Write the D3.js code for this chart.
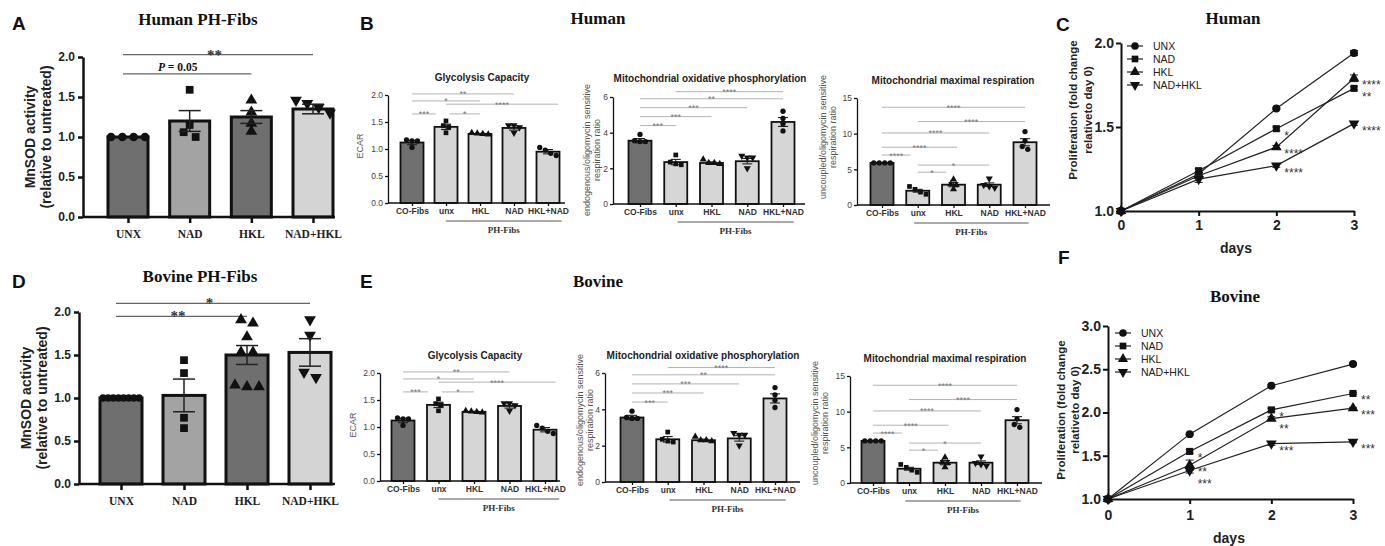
<!DOCTYPE html>
<html>
<head><meta charset="utf-8">
<style>
  html, body { margin: 0; background: #fff; }
  svg { display: block; }
</style>
</head>
<body>
<svg id="fig" width="1385" height="546"></svg>
<script src="https://cdnjs.cloudflare.com/ajax/libs/d3/7.8.5/d3.min.js"></script>
<script>
// ---- MnSOD activity (A, D) ----
const mnsodGroups = ['UNX', 'NAD', 'HKL', 'NAD+HKL'];
const humanMnsodMean = [1.0, 1.2, 1.25, 1.35];
const humanMnsodSem = [0, 0.13, 0.08, 0.06];
const humanMnsodPoints = [[1, 1, 1, 1], [1.59, 1.15, 1.06, 1.0], [1.46, 1.31, 1.17, 1.07], [1.46, 1.42, 1.37, 1.30]];
const humanMnsodSig = [[0, 3, 2.03, '**'], [0, 2, 1.79, 'P = 0.05']];

const bovineMnsodMean = [1.0, 1.03, 1.5, 1.53];
const bovineMnsodSem = [0, 0.19, 0.11, 0.16];
const bovineMnsodPoints = [[1, 1, 1, 1, 1, 1, 1, 1], [1.44, 1.29, 0.77, 0.65], [1.87, 1.91, 1.71, 1.53, 1.53, 1.13, 1.15, 1.13], [1.91, 1.73, 1.24, 1.30]];
const bovineMnsodSig = [[0, 3, 2.10, '*'], [0, 2, 1.95, '**']];

// ---- Seahorse (B, E) ----
const mitoGroups = ['CO-Fibs', 'unx', 'HKL', 'NAD', 'HKL+NAD'];
const glycMean = [1.12, 1.41, 1.28, 1.39, 0.95];
const glycSem = [0.04, 0.05, 0.01, 0.04, 0.04];
const glycPoints = [[1.17, 1.15, 1.15, 1.03], [1.52, 1.43, 1.41, 1.30], [1.30, 1.29, 1.28, 1.27], [1.44, 1.44, 1.40, 1.30], [1.03, 0.98, 0.92, 0.88]];
const glycSig = [[0, 3, 2.02, '**'], [0, 2, 1.89, '*'], [1, 4.3, 1.83, '****'], [0, 0.7, 1.65, '***'], [1.1, 2, 1.65, '*']];

const oxMean = [3.55, 2.35, 2.3, 2.4, 4.6];
const oxSem = [0.12, 0.15, 0.06, 0.15, 0.25];
const oxPoints = [[3.9, 3.55, 3.5, 3.5], [2.75, 2.35, 2.25, 2.2], [2.5, 2.3, 2.25, 2.3], [2.7, 2.6, 2.6, 2.0], [5.2, 4.8, 4.5, 4.1]];
const oxSig = [[1, 4, 6.3, '****'], [0, 4, 5.9, '**'], [0, 3, 5.4, '***'], [0, 2, 4.9, '***'], [0, 1, 4.4, '***']];

const maxMean = [5.9, 2.0, 2.85, 2.85, 8.8];
const maxSem = [0.05, 0.2, 0.3, 0.25, 0.5];
const maxPoints = [[5.9, 5.9, 5.9, 5.9], [2.6, 2.2, 1.8, 1.5], [3.6, 2.9, 2.8, 2.2], [3.7, 2.8, 2.6, 2.4], [10.3, 9.0, 8.2, 7.8]];
const maxSig = [[0, 4, 13.7, '****'], [1, 4, 11.7, '****'], [0, 3, 10.1, '****'], [0, 2.1, 8.1, '****'], [0, 0.8, 7.0, '****'], [1, 3, 5.6, '*'], [1, 1.8, 4.6, '*']];

// ---- Proliferation (C, F) ----
const prolSeries = ['UNX', 'NAD', 'HKL', 'NAD+HKL'];
const days = [0, 1, 2, 3];
const humanProl = [[1.0, 1.22, 1.61, 1.94], [1.0, 1.24, 1.49, 1.73], [1.0, 1.21, 1.38, 1.79], [1.0, 1.19, 1.27, 1.52]];
const humanProlSem = [[0, 0.01, 0.005, 0.015], [0, 0.01, 0.01, 0.01], [0, 0.01, 0.01, 0.02], [0, 0.02, 0.01, 0.01]];
const humanProlSig = [[2, 3, '****'], [1, 3, '**'], [3, 3, '****'], [1, 2, '*'], [2, 2, '****'], [3, 2, '****']];

const bovineProl = [[1.0, 1.75, 2.31, 2.56], [1.0, 1.55, 2.03, 2.22], [1.0, 1.39, 1.93, 2.05], [1.0, 1.33, 1.64, 1.66]];
const bovineProlSem = [[0, 0.01, 0.01, 0.01], [0, 0.02, 0.02, 0.01], [0, 0.06, 0.02, 0.01], [0, 0.03, 0.02, 0.01]];
const bovineProlSig = [[1, 1, '*'], [2, 1, '**'], [3, 1, '***'], [1, 2, '*'], [2, 2, '**'], [3, 2, '***'], [1, 3, '**'], [2, 3, '***'], [3, 3, '***']];

const sans = "'Liberation Sans', Arial, sans-serif";
const serif = "'Liberation Serif', 'Times New Roman', serif";
const svg = d3.select('#fig');

function txt(g, x, y, s, size, weight, family, anchor, fill) {
  return g.append('text').attr('x', x).attr('y', y).text(s)
    .attr('font-size', size).attr('font-weight', weight || 'normal')
    .attr('font-family', family || sans).attr('text-anchor', anchor || 'middle')
    .attr('fill', fill || '#111');
}
function vtxt(g, x, y, s, size, fill, weight) {
  return g.append('text').attr('transform', `translate(${x},${y}) rotate(-90)`)
    .attr('dy', '0.35em').attr('text-anchor', 'middle').text(s)
    .attr('font-size', size).attr('font-family', sans).attr('font-weight', weight || 'normal')
    .attr('fill', fill || '#111');
}
function marker(g, shape, x, y, size) {
  const type = shape === 'square' ? d3.symbolSquare : (shape === 'circle' ? d3.symbolCircle : d3.symbolTriangle);
  return g.append('path').attr('d', d3.symbol(type, size)())
    .attr('transform', `translate(${x},${y})` + (shape === 'down' ? ' rotate(180)' : ''))
    .attr('fill', '#111');
}
// spread points that sit at nearly the same height side by side (scatter-on-bar look)
function spread(vals, y, near, gap, maxHalf) {
  const idx = vals.map((v, i) => i).sort((a, b) => vals[b] - vals[a]);
  const off = new Array(vals.length).fill(0);
  let cl = [];
  const flush = () => {
    const g2 = cl.length > 1 ? Math.min(gap, 2 * maxHalf / (cl.length - 1)) : 0;
    cl.forEach((i, k) => off[i] = (k - (cl.length - 1) / 2) * g2);
    cl = [];
  };
  idx.forEach(i => {
    if (cl.length && Math.abs(y(vals[i]) - y(vals[cl[cl.length - 1]])) > near) flush();
    cl.push(i);
  });
  flush();
  return off;
}

// panel letters and serif titles
[['A', 12, 30], ['B', 360, 30], ['C', 1056, 31], ['D', 12, 288], ['E', 360, 288], ['F', 1058, 264]]
  .forEach(d => txt(svg, d[1], d[2], d[0], 19, 'bold', sans, 'start', '#111'));
txt(svg, 198, 25, 'Human PH-Fibs', 17, 'bold', serif);
txt(svg, 598, 24, 'Human', 17, 'bold', serif);
txt(svg, 1233, 24, 'Human', 17, 'bold', serif);
txt(svg, 200, 282, 'Bovine PH-Fibs', 17, 'bold', serif);
txt(svg, 598, 287, 'Bovine', 17, 'bold', serif);
txt(svg, 1235, 302, 'Bovine', 17, 'bold', serif);

// ---------- MnSOD bar panels ----------
const mnsodShapes = ['circle', 'square', 'triangle', 'down'];
const mnsodFill = ['#6f6f6f', '#a3a3a3', '#6f6f6f', '#d4d4d4'];

function mnsodPanel(o) {
  const g = svg.append('g');
  const y = d3.scaleLinear().domain([0, 2]).range([o.y0, o.y1]);
  const x = d3.scalePoint().domain(mnsodGroups).range([o.xFirst, o.xLast]);
  const at = i => o.xFirst + i * x.step();

  o.sig.forEach(s => {
    const x1 = at(s[0]), x2 = at(s[1]), yy = y(s[2]);
    g.append('line').attr('x1', x1 - 5).attr('x2', x2).attr('y1', yy).attr('y2', yy)
      .attr('stroke', '#666').attr('stroke-width', 1.2);
    if (s[3].startsWith('P')) {
      const t = txt(g, (x1 + x2) / 2 - 12, yy - 3, '', 11.5, 'bold', serif);
      t.append('tspan').attr('font-style', 'italic').text('P');
      t.append('tspan').text(s[3].slice(1));
    } else {
      txt(g, (x1 + x2) / 2 - 6, yy + 5, s[3], 15, 'bold', serif, 'middle', '#333');
    }
  });

  g.selectAll('rect.bar').data(o.mean).join('rect').attr('class', 'bar')
    .attr('x', (d, i) => x(mnsodGroups[i]) - o.bw / 2).attr('width', o.bw)
    .attr('y', d => y(d)).attr('height', d => y(0) - y(d))
    .attr('fill', (d, i) => mnsodFill[i]).attr('stroke', '#111').attr('stroke-width', 3);

  o.mean.forEach((m, i) => {
    const cx = x(mnsodGroups[i]);
    const pts = o.pts[i];
    const off = spread(pts, y, 7, 12, o.bw / 2 - 3);
    pts.forEach((v, j) => marker(g, mnsodShapes[i], cx + off[j], y(v), pts.length > 4 && i === 0 ? 42 : 60));
    const s = o.sem[i];
    if (s > 0) {
      g.append('line').attr('x1', cx).attr('x2', cx).attr('y1', y(m - s)).attr('y2', y(m + s)).attr('stroke', '#222').attr('stroke-width', 1.5);
      [m - s, m + s].forEach(v => g.append('line').attr('x1', cx - 11).attr('x2', cx + 11)
        .attr('y1', y(v)).attr('y2', y(v)).attr('stroke', '#222').attr('stroke-width', 1.5));
    }
  });

  const ya = g.append('g').attr('transform', `translate(${o.ax},0)`)
    .call(d3.axisLeft(y).tickValues([0, 0.5, 1, 1.5, 2]).tickFormat(d3.format('.1f')).tickSize(5).tickSizeOuter(0));
  ya.select('.domain').attr('stroke', '#111').attr('stroke-width', 2.5);
  ya.selectAll('.tick line').attr('stroke', '#111').attr('stroke-width', 2.5);
  ya.selectAll('.tick text').attr('font-size', 12).attr('font-weight', 'bold').attr('font-family', sans).attr('fill', '#222');

  const xa = g.append('g').attr('transform', `translate(0,${o.y0})`)
    .call(d3.axisBottom(x).tickSize(6).tickPadding(7).tickSizeOuter(0));
  xa.select('.domain').remove();
  xa.selectAll('.tick line').attr('stroke', '#111').attr('stroke-width', 2.5);
  xa.selectAll('.tick text').attr('font-size', 11.5).attr('font-weight', 'bold').attr('font-family', serif).attr('fill', '#222');
  g.append('line').attr('x1', o.ax).attr('x2', o.xEnd).attr('y1', o.y0).attr('y2', o.y0)
    .attr('stroke', '#111').attr('stroke-width', 2.5);

  vtxt(g, o.labX[0], (o.y0 + o.y1) / 2, 'MnSOD activity', 14, '#222', 'bold');
  vtxt(g, o.labX[1], (o.y0 + o.y1) / 2, '(relative to untreated)', 14, '#222', 'bold');
}

mnsodPanel({ mean: humanMnsodMean, sem: humanMnsodSem, pts: humanMnsodPoints, sig: humanMnsodSig,
  y0: 217, y1: 57, ax: 83, xEnd: 335, xFirst: 128, xLast: 313, bw: 40, labX: [30, 46] });
mnsodPanel({ mean: bovineMnsodMean, sem: bovineMnsodSem, pts: bovineMnsodPoints, sig: bovineMnsodSig,
  y0: 484, y1: 312, ax: 79, xEnd: 335, xFirst: 121, xLast: 310, bw: 42, labX: [26, 42] });

// ---------- Seahorse small panels ----------
const mitoShapes = ['circle', 'square', 'triangle', 'down', 'circle'];
const mitoFill = ['#707070', '#d6d6d6', '#d6d6d6', '#d6d6d6', '#d6d6d6'];

function mitoPanel(o) {
  const g = svg.append('g');
  const y = d3.scaleLinear().domain([0, o.max]).range([o.y0, o.y1]);
  const x = d3.scalePoint().domain(mitoGroups).range([o.xFirst, o.xLast]);
  const at = i => o.xFirst + i * x.step();

  txt(g, o.titleX, o.titleY, o.title, 10, 'bold', sans, 'middle', '#222');

  o.sig.forEach(s => {
    const x1 = at(s[0]), x2 = at(s[1]), yy = y(s[2]);
    g.append('line').attr('x1', x1).attr('x2', x2).attr('y1', yy).attr('y2', yy)
      .attr('stroke', '#aaa').attr('stroke-width', 0.9);
    txt(g, (x1 + x2) / 2, yy + 3.5, s[3], 9, 'normal', sans, 'middle', '#777');
  });

  g.selectAll('rect.bar').data(o.mean).join('rect').attr('class', 'bar')
    .attr('x', (d, i) => x(mitoGroups[i]) - 11.5).attr('width', 23)
    .attr('y', d => y(d)).attr('height', d => y(0) - y(d))
    .attr('fill', (d, i) => mitoFill[i]).attr('stroke', '#111').attr('stroke-width', 1.8);

  o.mean.forEach((m, i) => {
    const cx = x(mitoGroups[i]), s = o.sem[i];
    g.append('line').attr('x1', cx).attr('x2', cx).attr('y1', y(m - s)).attr('y2', y(m + s)).attr('stroke', '#222').attr('stroke-width', 1.1);
    [m - s, m + s].forEach(v => g.append('line').attr('x1', cx - 5).attr('x2', cx + 5)
      .attr('y1', y(v)).attr('y2', y(v)).attr('stroke', '#222').attr('stroke-width', 1.1));
    const off = spread(o.pts[i], y, 4, 5.5, 9);
    o.pts[i].forEach((v, j) => marker(g, mitoShapes[i], cx + off[j], y(v), 22));
  });

  const ya = g.append('g').attr('transform', `translate(${o.ax},0)`)
    .call(d3.axisLeft(y).tickValues(o.ticks).tickFormat(o.fmt).tickSize(3).tickPadding(2).tickSizeOuter(0));
  ya.select('.domain').attr('stroke', '#111').attr('stroke-width', 1.3);
  ya.selectAll('.tick line').attr('stroke', '#111').attr('stroke-width', 1.3);
  ya.selectAll('.tick text').attr('font-size', 8.5).attr('font-family', sans).attr('fill', '#444');

  const xa = g.append('g').attr('transform', `translate(0,${o.y0})`)
    .call(d3.axisBottom(x).tickSize(3).tickPadding(2).tickSizeOuter(0));
  xa.select('.domain').remove();
  xa.selectAll('.tick line').attr('stroke', '#111').attr('stroke-width', 1.3);
  xa.selectAll('.tick text').attr('font-size', 8.5).attr('font-weight', 'bold').attr('font-family', sans).attr('fill', '#333');
  g.append('line').attr('x1', o.ax).attr('x2', o.xEnd).attr('y1', o.y0).attr('y2', o.y0)
    .attr('stroke', '#111').attr('stroke-width', 1.3);

  const u1 = at(o.under[0]), u2 = at(o.under[1]);
  g.append('line').attr('x1', u1).attr('x2', u2).attr('y1', o.y0 + 18).attr('y2', o.y0 + 18)
    .attr('stroke', '#555').attr('stroke-width', 1);
  txt(g, (u1 + u2) / 2, o.y0 + 30, 'PH-Fibs', 9, 'bold', serif, 'middle', '#333');

  o.ylab.forEach((l, k) => vtxt(g, o.labX[k], o.labY, l, 9, '#555'));
}

const f1 = d3.format('.1f'), f0 = d3.format('d');
const oxLab = ['endogenous/oligomycin sensitive', 'respiration ratio'];
const maxLab = ['uncoupled/oligomycin sensitive', 'respiration ratio'];

// Human (B)
mitoPanel({ title: 'Glycolysis Capacity', titleX: 482, titleY: 81, mean: glycMean, sem: glycSem, pts: glycPoints, sig: glycSig,
  max: 2, ticks: [0, 0.5, 1, 1.5, 2], fmt: f1, y0: 203, y1: 95, ax: 388, xEnd: 565, xFirst: 412, xLast: 548,
  under: [1, 4.4], ylab: ['ECAR'], labX: [360], labY: 146 });
mitoPanel({ title: 'Mitochondrial oxidative phosphorylation', titleX: 710, titleY: 82, mean: oxMean, sem: oxSem, pts: oxPoints, sig: oxSig,
  max: 6, ticks: [0, 2, 4, 6], fmt: f0, y0: 204, y1: 97, ax: 613, xEnd: 805, xFirst: 640, xLast: 783,
  under: [1.05, 4.3], ylab: oxLab, labX: [587, 597], labY: 150 });
mitoPanel({ title: 'Mitochondrial maximal respiration', titleX: 953, titleY: 84, mean: maxMean, sem: maxSem, pts: maxPoints, sig: maxSig,
  max: 15, ticks: [0, 5, 10, 15], fmt: f0, y0: 205, y1: 98, ax: 857, xEnd: 1050, xFirst: 882, xLast: 1025,
  under: [0.9, 4.1], ylab: maxLab, labX: [823, 833], labY: 137 });
// Bovine (E)
mitoPanel({ title: 'Glycolysis Capacity', titleX: 475, titleY: 359, mean: glycMean, sem: glycSem, pts: glycPoints, sig: glycSig,
  max: 2, ticks: [0, 0.5, 1, 1.5, 2], fmt: f1, y0: 481, y1: 373, ax: 380, xEnd: 560, xFirst: 403, xLast: 545,
  under: [1, 4.4], ylab: ['ECAR'], labX: [353], labY: 425 });
mitoPanel({ title: 'Mitochondrial oxidative phosphorylation', titleX: 703, titleY: 359, mean: oxMean, sem: oxSem, pts: oxPoints, sig: oxSig,
  max: 6, ticks: [0, 2, 4, 6], fmt: f0, y0: 482, y1: 373, ax: 605, xEnd: 800, xFirst: 632, xLast: 775,
  under: [1.05, 4.3], ylab: oxLab, labX: [580, 590], labY: 420 });
mitoPanel({ title: 'Mitochondrial maximal respiration', titleX: 945, titleY: 362, mean: maxMean, sem: maxSem, pts: maxPoints, sig: maxSig,
  max: 15, ticks: [0, 5, 10, 15], fmt: f0, y0: 483, y1: 376, ax: 850, xEnd: 1042, xFirst: 873, xLast: 1017,
  under: [0.9, 4.1], ylab: maxLab, labX: [815, 825], labY: 423 });

// ---------- Proliferation line panels ----------
function prolPanel(o) {
  const g = svg.append('g');
  const x = d3.scaleLinear().domain([0, 3]).range([o.x0, o.x1]);
  const y = d3.scaleLinear().domain([1, o.max]).range([o.y0, o.y1]);
  const line = d3.line().x((d, i) => x(days[i])).y(d => y(d));

  o.data.forEach((ser, k) => {
    g.append('path').attr('d', line(ser)).attr('fill', 'none').attr('stroke', '#222').attr('stroke-width', 1.2);
    ser.forEach((v, i) => {
      const s = o.sem[k][i], cx = x(days[i]);
      if (s > 0) {
        g.append('line').attr('x1', cx).attr('x2', cx).attr('y1', y(v - s)).attr('y2', y(v + s)).attr('stroke', '#222');
        [v - s, v + s].forEach(w => g.append('line').attr('x1', cx - 4).attr('x2', cx + 4)
          .attr('y1', y(w)).attr('y2', y(w)).attr('stroke', '#222'));
      }
      marker(g, mnsodShapes[k], cx, y(v), 50);
    });
  });

  // significance stars beside the markers, nudged apart when they crowd
  days.forEach(dd => {
    const here = o.sig.filter(s => s[1] === dd)
      .map(s => ({ s: s[2], x: x(dd) + 8, y: y(o.data[s[0]][dd]) + 11 }))
      .sort((a, b) => a.y - b.y);
    here.forEach((h, k) => { if (k && h.y - here[k - 1].y < 12) h.y = here[k - 1].y + 12; });
    here.forEach(h => txt(g, h.x, h.y, h.s, 12, 'normal', sans, 'start', '#333'));
  });

  const ya = g.append('g').attr('transform', `translate(${o.x0},0)`)
    .call(d3.axisLeft(y).tickValues(o.ticks).tickFormat(d3.format('.1f')).tickSize(5).tickPadding(2).tickSizeOuter(0));
  const xa = g.append('g').attr('transform', `translate(0,${o.y0})`)
    .call(d3.axisBottom(x).tickValues(days).tickFormat(d3.format('d')).tickSize(5).tickPadding(o.xPad).tickSizeOuter(0));
  [ya, xa].forEach(a => {
    a.select('.domain').attr('stroke', '#111').attr('stroke-width', 2);
    a.selectAll('.tick line').attr('stroke', '#111').attr('stroke-width', 2);
    a.selectAll('.tick text').attr('font-size', 14).attr('font-weight', 'bold').attr('font-family', sans).attr('fill', '#222');
  });
  txt(g, o.daysX, o.daysY, 'days', 14, 'bold', sans, 'middle', '#222');

  vtxt(g, o.labX[0], o.labY, 'Proliferation (fold change', 11.5, '#222', 'bold');
  vtxt(g, o.labX[1], o.labY, 'relativeto day 0)', 11.5, '#222', 'bold');

  prolSeries.forEach((name, k) => {
    const ly = o.legY + k * 13;
    g.append('line').attr('x1', o.legX - 8).attr('x2', o.legX + 8).attr('y1', ly).attr('y2', ly).attr('stroke', '#222').attr('stroke-width', 1.2);
    marker(g, mnsodShapes[k], o.legX, ly, 45);
    txt(g, o.legX + 18, ly + 4, name, 10.5, 'normal', sans, 'start', '#222');
  });
}

prolPanel({ data: humanProl, sem: humanProlSem, sig: humanProlSig, max: 2, ticks: [1, 1.5, 2],
  x0: 1121, x1: 1354, y0: 211, y1: 43, xPad: 4, daysX: 1236, daysY: 253,
  labX: [1073, 1088], labY: 110, legX: 1135, legY: 46 });
prolPanel({ data: bovineProl, sem: bovineProlSem, sig: bovineProlSig, max: 3, ticks: [1, 1.5, 2, 2.5, 3],
  x0: 1108, x1: 1353, y0: 499, y1: 326, xPad: 6, daysX: 1229, daysY: 543,
  labX: [1061, 1075], labY: 410, legX: 1123, legY: 333 });
</script>
</body>
</html>
